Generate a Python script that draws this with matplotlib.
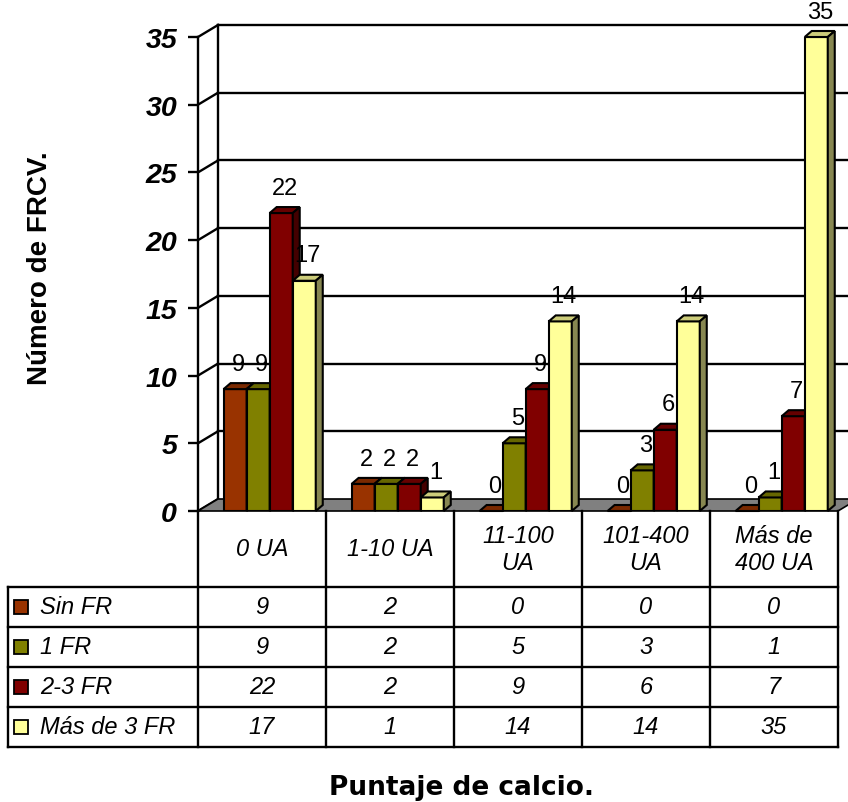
import matplotlib.pyplot as plt
from matplotlib.patches import Polygon
import matplotlib.colors as mcolors

# Data
categories = ["0 UA", "1-10 UA", "11-100\nUA", "101-400\nUA", "Más de\n400 UA"]
series = ["Sin FR", "1 FR", "2-3 FR", "Más de 3 FR"]
sin_fr = [9, 2, 0, 0, 0]
uno_fr = [9, 2, 5, 3, 1]
dos_tres_fr = [22, 2, 9, 6, 7]
mas_tres_fr = [17, 1, 14, 14, 35]
values = [sin_fr, uno_fr, dos_tres_fr, mas_tres_fr]
colors = ["#993300", "#808000", "#800000", "#FFFF99"]
yticks = [0, 5, 10, 15, 20, 25, 30, 35]

plt.rcParams['font.family'] = ['Liberation Sans', 'DejaVu Sans']

W, H = 848, 803
fig = plt.figure(figsize=(W / 100, H / 100), dpi=100)

# main chart area (front plane)
ax = fig.add_axes([198 / W, 1 - 512 / H, 640 / W, 474 / H])
ax.set_xlim(-0.5, 4.5)
ax.set_ylim(0, 35)
ax.patch.set_visible(False)
for s in ['top', 'right', 'bottom']:
    ax.spines[s].set_visible(False)
ax.spines['left'].set_linewidth(1.7)
ax.set_xticks([])
ax.set_yticks(yticks)
ax.tick_params(axis='y', direction='out', length=7, width=1.7, pad=8, labelsize=20.5)
for lab in ax.get_yticklabels():
    lab.set_fontweight('bold')
    lab.set_fontstyle('italic')

# pixel -> data unit helpers
ux = 5 / 640
uy = 35 / 474
wall_dx, wall_dy = 20 * ux, 12 * uy
bar_dx, bar_dy = 7 * ux, 6 * uy

# floor
floor = Polygon([(-0.5, 0), (4.5, 0), (4.5 + wall_dx, wall_dy), (-0.5 + wall_dx, wall_dy)],
                closed=True, fc="#808080", ec="black", lw=1.2, clip_on=False, zorder=1)
ax.add_patch(floor)

# back wall gridlines and side wall diagonals
for v in yticks[1:]:
    ax.plot([-0.5 + wall_dx, 4.6 + wall_dx], [v + wall_dy] * 2, color="black", lw=1.7,
            clip_on=False, zorder=0.5)
for v in yticks:
    ax.plot([-0.5, -0.5 + wall_dx], [v, v + wall_dy], color="black", lw=1.7,
            clip_on=False, zorder=0.5)
ax.plot([-0.5 + wall_dx] * 2, [wall_dy, 35 + wall_dy], color="black", lw=1.7,
        clip_on=False, zorder=0.5)


def shade(c, f):
    r, g, b = mcolors.to_rgb(c)
    return (r * f, g * f, b * f)


bw = 0.18
off = 0.06
for i, (name, vals, col) in enumerate(zip(series, values, colors)):
    z = 3 + i
    xs = [k + off + (i - 2) * bw for k in range(len(categories))]
    ax.bar(xs, vals, width=bw, align='edge', color=col, edgecolor="black",
           linewidth=1.5, zorder=z)
    for x0, v in zip(xs, vals):
        top = Polygon([(x0, v), (x0 + bw, v), (x0 + bw + bar_dx, v + bar_dy), (x0 + bar_dx, v + bar_dy)],
                      closed=True, fc=shade(col, 0.8), ec="black", lw=1.5, zorder=z, clip_on=False)
        side = Polygon([(x0 + bw, 0), (x0 + bw + bar_dx, bar_dy), (x0 + bw + bar_dx, v + bar_dy), (x0 + bw, v)],
                       closed=True, fc=shade(col, 0.53), ec="black", lw=1.5, zorder=z, clip_on=False)
        ax.add_patch(top)
        ax.add_patch(side)
        ax.annotate(str(v), (x0 + bw / 2 + bar_dx / 2, v + bar_dy), xytext=(0, 6),
                    textcoords='offset points', ha='center', va='bottom', fontsize=17,
                    zorder=10, annotation_clip=False)

# data table
tb = fig.add_axes([198 / W, 1 - 748 / H, 640 / W, 236 / H])
tb.set_xlim(-0.5, 4.5)
tb.set_ylim(0, 5.9)
tb.axis('off')
left = -0.5 - 190 / 128
lw = 1.7
for r in range(5):
    tb.plot([left, 4.5], [r, r], color="black", lw=lw, clip_on=False)
tb.plot([left, left], [0, 4], color="black", lw=lw, clip_on=False)
for k in range(len(categories) + 1):
    tb.plot([k - 0.5, k - 0.5], [0, 5.9], color="black", lw=lw, clip_on=False)

for k, cat in enumerate(categories):
    tb.text(k, 4.95, cat, ha='center', va='center', fontsize=17, style='italic',
            linespacing=1.25)

for i, (name, vals, col) in enumerate(zip(series, values, colors)):
    yc = 3.5 - i
    tb.plot([-0.5 - 177 / 128], [yc], marker='s', ms=10, mfc=col, mec="black", mew=1.3,
            clip_on=False)
    tb.text(-0.5 - 158 / 128, yc, name, ha='left', va='center', fontsize=17, style='italic')
    for k, v in enumerate(vals):
        tb.text(k, yc, str(v), ha='center', va='center', fontsize=17, style='italic')

# axis titles
fig.text(462 / W, 1 - 788 / H, "Puntaje de calcio.", ha='center', va='center',
         fontsize=19, fontweight='bold', family='DejaVu Sans')
fig.text(40 / W, 1 - 268 / H, "Número de FRCV.", ha='center', va='center', rotation=90,
         fontsize=20, fontweight='bold')

fig.savefig("out.png", dpi=100)
